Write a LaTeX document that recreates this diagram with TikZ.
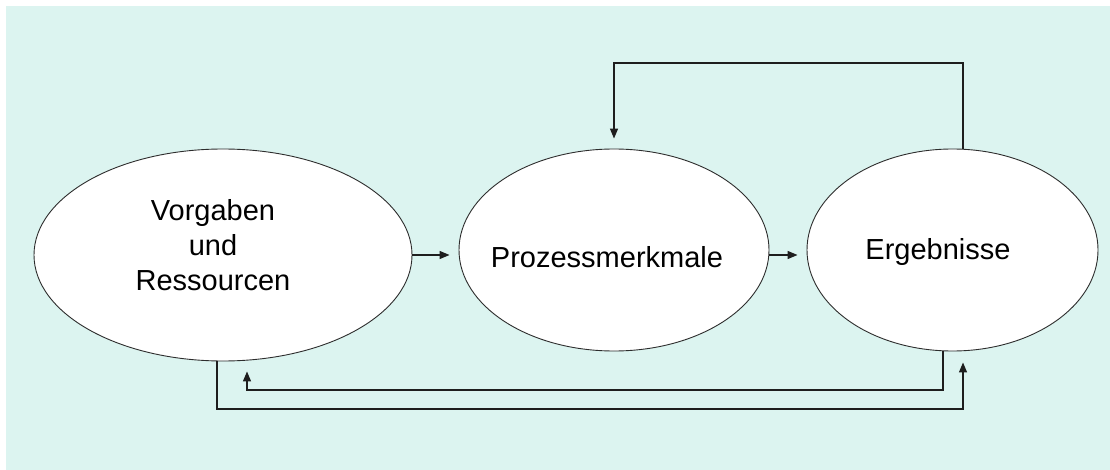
\documentclass[tikz,border=0pt]{standalone}
\usepackage{fontspec}
\setmainfont{Liberation Sans}
\usetikzlibrary{shapes.geometric,arrows.meta,calc}
\definecolor{bgc}{RGB}{220,244,240}
\definecolor{edgec}{RGB}{45,45,45}
\definecolor{linec}{RGB}{30,30,30}
\begin{document}
\begin{tikzpicture}[x=1pt,y=-1pt,
  proc/.style={ellipse, draw=edgec, line width=0.9pt, fill=white, inner sep=0pt},
  lbl/.style={font=\fontsize{29}{35}\selectfont, align=center, inner sep=0pt},
  arr/.style={draw=linec, line width=1.3pt, -{Triangle[length=10pt,width=8pt]}}]
\useasboundingbox (0,0) rectangle (1110,470);
\fill[bgc] (6,6) rectangle (1110,470);
\node[proc, minimum width=378pt, minimum height=212pt] (e1) at (223,255) {};
\node[proc, minimum width=310pt, minimum height=202pt] (e2) at (614,250) {};
\node[proc, minimum width=291pt, minimum height=202pt] (e3) at (952.5,250) {};
\node[lbl, anchor=base] (t1) at (213,290) {Vorgaben\\und\\Ressourcen};
\node[lbl, anchor=base] (t2) at (607,268) {Prozessmerkmale};
\node[lbl, anchor=base] (t3) at (938,259) {Ergebnisse};
\coordinate (topy) at (0,63);
\coordinate (innery) at (0,390);
\coordinate (outery) at (0,409);
\draw[arr] (e1.east) -- ([xshift=-9pt]e2.west |- e1.east);
\draw[arr] ([yshift=-5pt]e2.east) -- ([xshift=-9pt,yshift=-5pt]e3.west);
\draw[arr] ([xshift=10.5pt]e3.north) |- (e2.north |- topy) -- ([yshift=10pt]e2.north);
\draw[arr] ([xshift=-6pt]e1.south) |- ([xshift=10.5pt]e3.south |- outery) -- ([xshift=10.5pt,yshift=-11pt]e3.south);
\draw[arr] ([xshift=-9.5pt]e3.south) |- ([xshift=24pt]e1.south |- innery) -- ([xshift=24pt,yshift=-10pt]e1.south);
\end{tikzpicture}
\end{document}
